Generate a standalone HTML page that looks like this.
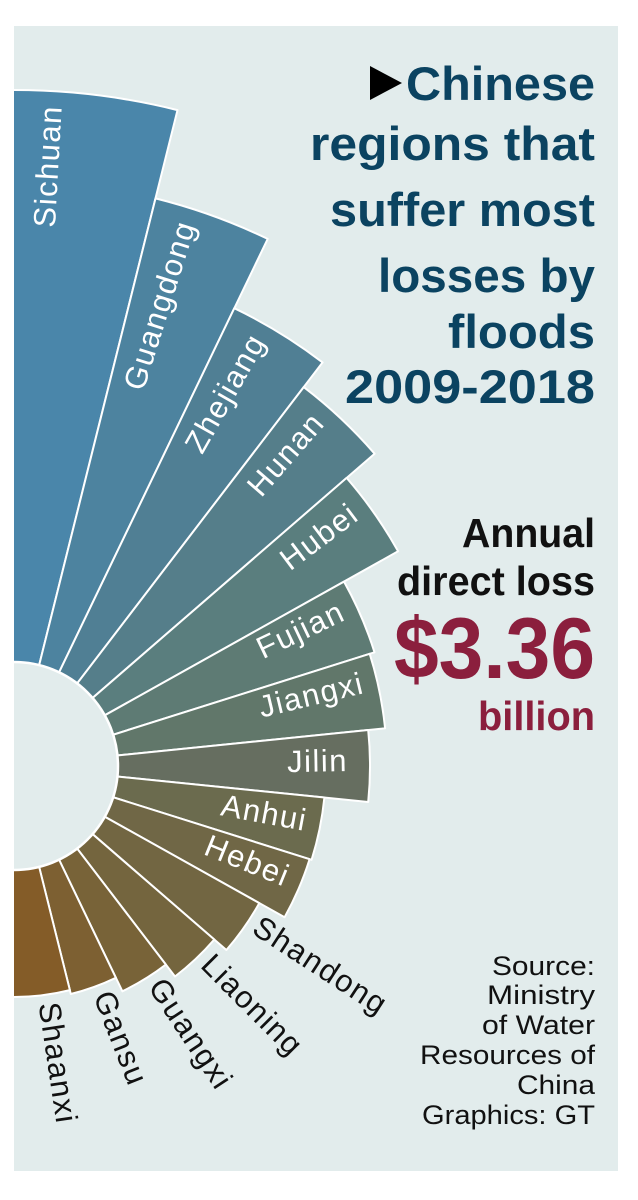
<!DOCTYPE html>
<html><head><meta charset="utf-8"><style>
html,body{margin:0;padding:0;background:#fff;}
svg{display:block;}
</style></head><body>
<svg width="638" height="1200" viewBox="0 0 638 1200" xmlns="http://www.w3.org/2000/svg">
<defs><clipPath id="cp"><rect x="14" y="26" width="604" height="1145"/></clipPath></defs>
<rect x="0" y="0" width="638" height="1200" fill="#fff"/>
<rect x="14" y="26" width="604" height="1145" fill="#e2ecec"/>
<g clip-path="url(#cp)" stroke="#fff" stroke-width="2" stroke-linejoin="round">
<path d="M14 766 L-21.4 91 A676 676 0 0 1 177.5 110.1 Z" fill="#4a86aa"/>
<path d="M14 766 L155.5 198.4 A585 585 0 0 1 267.7 238.9 Z" fill="#4d839f"/>
<path d="M14 766 L234.3 308.2 A508 508 0 0 1 322.6 362.4 Z" fill="#507f94"/>
<path d="M14 766 L303.7 387.1 A477 477 0 0 1 374.6 453.7 Z" fill="#557e8a"/>
<path d="M14 766 L346.6 477.9 A440 440 0 0 1 398.1 551.3 Z" fill="#5a7e7e"/>
<path d="M14 766 L344 581.6 A378 378 0 0 1 374.5 652.3 Z" fill="#5e7b74"/>
<path d="M14 766 L369.7 653.8 A373 373 0 0 1 385.1 728.3 Z" fill="#61776a"/>
<path d="M14 766 L368.2 730 A356 356 0 0 1 368.2 802 Z" fill="#666e60"/>
<path d="M14 766 L324.4 797.5 A312 312 0 0 1 311.6 859.8 Z" fill="#6b6b4e"/>
<path d="M14 766 L309.6 859.2 A310 310 0 0 1 284.6 917.2 Z" fill="#706746"/>
<path d="M14 766 L259.3 903.1 A281 281 0 0 1 226.4 950 Z" fill="#726642"/>
<path d="M14 766 L214.3 939.5 A265 265 0 0 1 175 976.5 Z" fill="#74653e"/>
<path d="M14 766 L165.9 964.6 A250 250 0 0 1 122.4 991.3 Z" fill="#786338"/>
<path d="M14 766 L115.9 977.8 A235 235 0 0 1 70.8 994 Z" fill="#7d6032"/>
<path d="M14 766 L69.9 990.1 A231 231 0 0 1 -6.1 996.1 Z" fill="#845c28"/>
<circle cx="14" cy="766" r="104" fill="#e2ecec" stroke-width="2.5"/>
</g>
<g font-family="Liberation Sans, sans-serif" font-size="31" letter-spacing="1.5" fill="#fff" text-anchor="end">
<text transform="translate(50.9,105) rotate(-86.8)" dy=".35em">Sichuan</text>
<text transform="translate(185.7,221.4) rotate(-72.5)" dy=".35em">Guangdong</text>
<text transform="translate(257.2,336) rotate(-60.5)" dy=".35em">Zhejiang</text>
<text transform="translate(317.8,416.6) rotate(-49)" dy=".35em">Hunan</text>
<text transform="translate(354.2,509.6) rotate(-37)" dy=".35em">Hubei</text>
<text transform="translate(342.5,609.3) rotate(-25.5)" dy=".35em">Fujian</text>
<text transform="translate(363.1,682.2) rotate(-13.5)" dy=".35em">Jiangxi</text>
<text transform="translate(347.9,760.2) rotate(-1)" dy=".35em">Jilin</text>
<text transform="translate(307,820.3) rotate(10.5)" dy=".35em">Anhui</text>
<text transform="translate(288.5,876.9) rotate(22)" dy=".35em">Hebei</text>
</g>
<g font-family="Liberation Sans, sans-serif" font-size="31" letter-spacing="1.5" fill="#111" text-anchor="start">
<text transform="translate(256.4,923.4) rotate(33)" dy=".35em">Shandong</text>
<text transform="translate(207,959) rotate(45)" dy=".35em">Liaoning</text>
<text transform="translate(156.4,981.1) rotate(56.5)" dy=".35em">Guangxi</text>
<text transform="translate(103.1,992.1) rotate(68.5)" dy=".35em">Gansu</text>
<text transform="translate(49.3,1002.4) rotate(81.5)" dy=".35em">Shaanxi</text>
</g>
<polygon points="370,66 370,100 402,83" fill="#000"/>
<g font-family="Liberation Sans, sans-serif" font-weight="bold" font-size="47" fill="#0b4361">
<text x="406" y="100" textLength="189" lengthAdjust="spacingAndGlyphs">Chinese</text>
<text x="310" y="160" textLength="285" lengthAdjust="spacingAndGlyphs">regions that</text>
<text x="330" y="226" textLength="265" lengthAdjust="spacingAndGlyphs">suffer most</text>
<text x="378" y="292" textLength="217" lengthAdjust="spacingAndGlyphs">losses by</text>
<text x="448" y="348" textLength="147" lengthAdjust="spacingAndGlyphs">floods</text>
<text x="345" y="403" textLength="250" lengthAdjust="spacingAndGlyphs">2009-2018</text>
</g>
<g font-family="Liberation Sans, sans-serif" font-weight="bold" fill="#111" font-size="41">
<text x="462" y="547" textLength="133" lengthAdjust="spacingAndGlyphs">Annual</text>
<text x="397" y="595" textLength="198" lengthAdjust="spacingAndGlyphs">direct loss</text>
</g>
<g font-family="Liberation Sans, sans-serif" font-weight="bold" fill="#8b1f3d">
<text x="394" y="678" font-size="86" textLength="201" lengthAdjust="spacingAndGlyphs">$3.36</text>
<text x="478" y="730" font-size="41" textLength="117" lengthAdjust="spacingAndGlyphs">billion</text>
</g>
<g font-family="Liberation Sans, sans-serif" font-size="27" fill="#111">
<text x="492" y="975" textLength="103" lengthAdjust="spacingAndGlyphs">Source:</text>
<text x="487" y="1004" textLength="108" lengthAdjust="spacingAndGlyphs">Ministry</text>
<text x="482" y="1034" textLength="113" lengthAdjust="spacingAndGlyphs">of Water</text>
<text x="420" y="1064" textLength="175" lengthAdjust="spacingAndGlyphs">Resources of</text>
<text x="517" y="1094" textLength="78" lengthAdjust="spacingAndGlyphs">China</text>
<text x="422" y="1124" textLength="173" lengthAdjust="spacingAndGlyphs">Graphics: GT</text>
</g>
</svg>
</body></html>
